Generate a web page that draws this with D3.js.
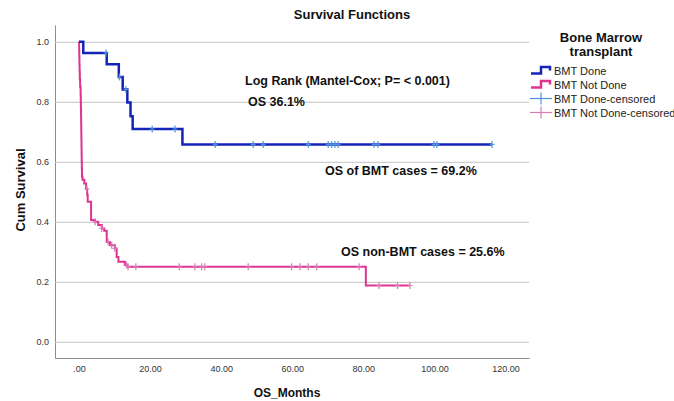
<!DOCTYPE html>
<html>
<head>
<meta charset="utf-8">
<script src="https://cdn.jsdelivr.net/npm/d3@7"></script>
<style>
  body { margin: 0; background: #fff; }
  svg { display: block; font-family: "Liberation Sans", Arial, sans-serif; }
</style>
</head>
<body>
<svg id="chart" width="674" height="401"></svg>
<script>
// Kaplan-Meier steps: [time in months, survival after the event]
const bmtDoneSteps = [[0, 1.0], [1.2, 0.963], [7.8, 0.925], [11.2, 0.883], [12.3, 0.841],
  [13.6, 0.798], [14.5, 0.752], [15.1, 0.709], [29.1, 0.658]];
const bmtDoneEnd = 116.2;
const bmtDoneCensored = [7.6, 11.4, 13.2, 20.6, 27.0, 38.3, 49.0, 51.8, 64.5, 70.1, 71.1,
  72.0, 72.9, 83.0, 84.1, 99.9, 100.7, 116.2];

const bmtNotDoneSteps = [[0, 1.0], [0.04, 0.975], [0.08, 0.95], [0.12, 0.925], [0.17, 0.9],
  [0.23, 0.875], [0.32, 0.85], [0.45, 0.825], [0.5, 0.8], [0.54, 0.775], [0.58, 0.75],
  [0.61, 0.725], [0.64, 0.7], [0.67, 0.675], [0.7, 0.65], [0.73, 0.625], [0.76, 0.6],
  [0.8, 0.575], [0.85, 0.55], [1.0, 0.54], [1.5, 0.528], [2.0, 0.51], [2.3, 0.49],
  [2.45, 0.467], [3.4, 0.406], [4.5, 0.4], [5.4, 0.389], [6.4, 0.378], [7.1, 0.37],
  [7.8, 0.333], [8.7, 0.322], [10.1, 0.311], [10.6, 0.283], [11.1, 0.267], [12.9, 0.256],
  [13.5, 0.25], [80.7, 0.1875]];
const bmtNotDoneEnd = 93.1;
const bmtNotDoneCensored = [2.2, 4.5, 6.4, 8.2, 9.2, 10.1, 13.4, 13.8, 16.0, 28.2, 32.6,
  34.5, 35.4, 47.6, 59.8, 62.2, 64.5, 66.9, 78.8, 84.4, 89.6, 93.1];

const yTicks = [0, 0.2, 0.4, 0.6, 0.8, 1.0];
const xTicks = [0, 20, 40, 60, 80, 100, 120];

const legendLabels = ["BMT Done", "BMT Not Done", "BMT Done-censored", "BMT Not Done-censored"];
const annotations = [
  { text: "Log Rank (Mantel-Cox; P= < 0.001)", x: 245, y: 84.5 },
  { text: "OS 36.1%", x: 248, y: 106 },
  { text: "OS of BMT cases = 69.2%", x: 325, y: 175 },
  { text: "OS non-BMT cases = 25.6%", x: 341, y: 256 }
];

const blue = "#1424b8", pink = "#dd3490";
const blueCens = "#4c94e0", pinkCens = "#d77cb6";

const svg = d3.select("#chart");

const x = d3.scaleLinear().domain([-6.75, 126.6]).range([55, 529]);
const y = d3.scaleLinear().domain([-0.054, 1.056]).range([358, 25]);

// y axis with grid lines
const yAxis = svg.append("g")
  .attr("transform", "translate(55,0)")
  .call(d3.axisLeft(y).tickValues(yTicks).tickFormat(d3.format(".1f"))
    .tickSizeInner(-474).tickSizeOuter(0).tickPadding(6));
yAxis.selectAll(".tick line").attr("stroke", "#c4c4c4");
yAxis.select(".domain").attr("stroke", "#8c8c8c");
yAxis.selectAll("text").attr("font-size", 9).attr("fill", "#333")
  .attr("font-family", "Liberation Sans, Arial, sans-serif");

const xAxis = svg.append("g")
  .attr("transform", "translate(0,358)")
  .call(d3.axisBottom(x).tickValues(xTicks)
    .tickFormat(d => d3.format(".2f")(d).replace(/^0\./, "."))
    .tickSize(0).tickPadding(8));
xAxis.select(".domain").attr("stroke", "#8c8c8c");
xAxis.selectAll("text").attr("font-size", 9).attr("fill", "#333")
  .attr("font-family", "Liberation Sans, Arial, sans-serif");

// curves
const line = d3.line().x(d => x(d[0])).y(d => y(d[1])).curve(d3.curveStepAfter);

function survAt(steps, t) {
  let s = steps[0][1];
  for (const st of steps) { if (st[0] <= t) s = st[1]; }
  return s;
}

function drawGroup(steps, end, censored, color, censColor, width) {
  const pts = steps.concat([[end, steps[steps.length - 1][1]]]);
  svg.append("path").datum(pts)
    .attr("d", line).attr("fill", "none")
    .attr("stroke", color).attr("stroke-width", width);
  const g = svg.append("g");
  censored.forEach(t => {
    const cx = x(t), cy = y(survAt(steps, t));
    g.append("line").attr("x1", cx).attr("x2", cx).attr("y1", cy - 3.5).attr("y2", cy + 3.5)
      .attr("stroke", censColor).attr("stroke-width", 1.2);
    g.append("line").attr("x1", cx - 2.5).attr("x2", cx + 2.5).attr("y1", cy).attr("y2", cy)
      .attr("stroke", censColor).attr("stroke-width", 1);
  });
}

drawGroup(bmtNotDoneSteps, bmtNotDoneEnd, bmtNotDoneCensored, pink, pinkCens, 2);
drawGroup(bmtDoneSteps, bmtDoneEnd, bmtDoneCensored, blue, blueCens, 2.5);

// titles
svg.append("text").attr("x", 352).attr("y", 18.5).attr("text-anchor", "middle")
  .attr("font-size", 13).attr("font-weight", "bold").attr("fill", "#111")
  .text("Survival Functions");
svg.append("text").attr("x", 287).attr("y", 397).attr("text-anchor", "middle")
  .attr("font-size", 12).attr("font-weight", "bold").attr("fill", "#111")
  .text("OS_Months");
svg.append("text").attr("transform", "translate(24.5,190) rotate(-90)")
  .attr("text-anchor", "middle")
  .attr("font-size", 13).attr("font-weight", "bold").attr("fill", "#111")
  .text("Cum Survival");

svg.selectAll(".annot").data(annotations).enter().append("text")
  .attr("class", "annot")
  .attr("x", d => d.x).attr("y", d => d.y)
  .attr("font-size", 12.5).attr("font-weight", "bold").attr("fill", "#111")
  .text(d => d.text);

// legend
const lg = svg.append("g");
lg.append("text").attr("x", 601).attr("y", 42).attr("text-anchor", "middle")
  .attr("font-size", 13).attr("font-weight", "bold").attr("fill", "#111").text("Bone Marrow");
lg.append("text").attr("x", 601).attr("y", 56).attr("text-anchor", "middle")
  .attr("font-size", 13).attr("font-weight", "bold").attr("fill", "#111").text("transplant");

const legColors = [blue, pink, blueCens, pinkCens];
legendLabels.forEach((lab, i) => {
  const cy = 70.5 + i * 14;
  if (i < 2) {
    lg.append("path")
      .attr("d", `M531,${cy + 3} H541 V${cy - 3.5} H550 V${cy}`)
      .attr("fill", "none").attr("stroke", legColors[i]).attr("stroke-width", 2.5);
  } else {
    lg.append("line").attr("x1", 530).attr("x2", 552).attr("y1", cy).attr("y2", cy)
      .attr("stroke", legColors[i]).attr("stroke-width", 1.2);
    lg.append("line").attr("x1", 541).attr("x2", 541).attr("y1", cy - 6).attr("y2", cy + 6)
      .attr("stroke", legColors[i]).attr("stroke-width", 1.2);
  }
  lg.append("text").attr("x", 554).attr("y", cy + 4).attr("font-size", 11)
    .attr("fill", "#222").text(lab);
});
</script>
</body>
</html>
